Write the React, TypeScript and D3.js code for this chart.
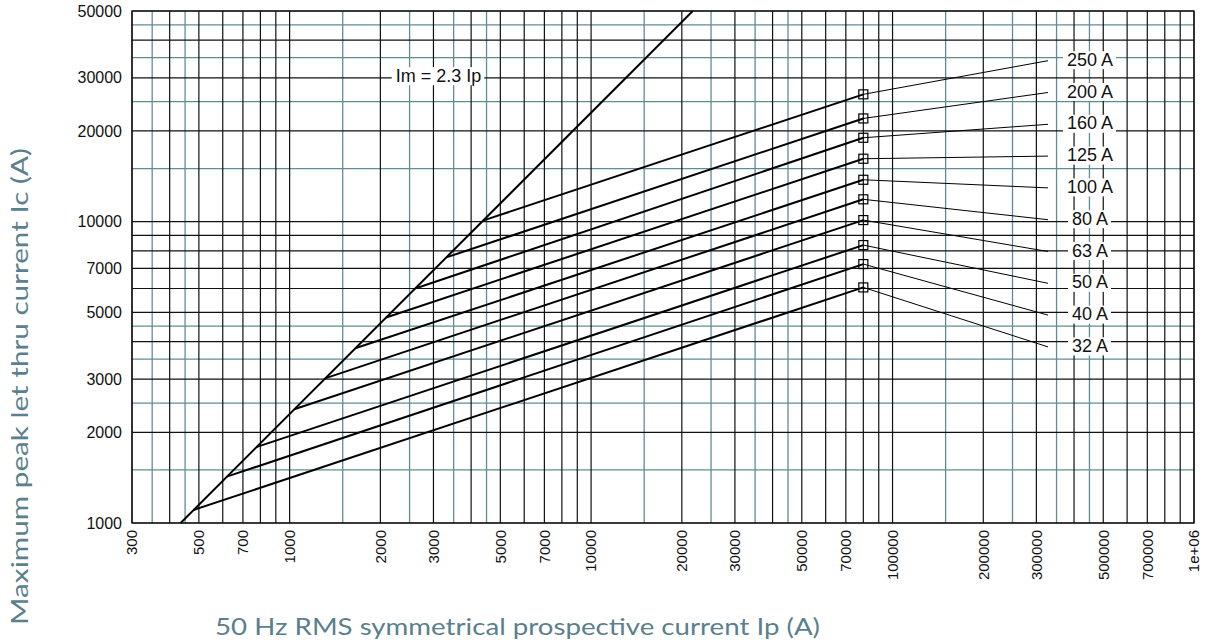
import { useEffect, useRef } from 'react';
import * as d3 from 'd3';

// fuse ratings, knee point on the Im = 2.3 Ip line, and end point at Ip = 80 kA
const ratings = ['250 A', '200 A', '160 A', '125 A', '100 A', '80 A', '63 A', '50 A', '40 A', '32 A'];
const kneeIp = [4400, 3310, 2610, 2090, 1650, 1310, 1036, 775, 619, 480];
const kneeIc = [10100, 7610, 6000, 4810, 3800, 3020, 2385, 1785, 1425, 1105];
const endIp = [80000, 80000, 80000, 80000, 80000, 80000, 80000, 80000, 80000, 80000];
const endIc = [26450, 22000, 18980, 16170, 13770, 11860, 10120, 8360, 7230, 6050];

// Im = 2.3 Ip envelope
const envIp = [435, 21740];
const envIc = [1000, 50000];

const xTickLabels = [300, 500, 700, 1000, 2000, 3000, 5000, 7000, 10000, 20000, 30000, 50000, 70000, 100000, 200000, 300000, 500000, 700000, 1000000];
const yTickLabels = [1000, 2000, 3000, 5000, 7000, 10000, 20000, 30000, 50000];
const halfSteps = [1.5, 2.5, 3.5, 4.5];

const W = 1205;
const H = 643;
const TEAL = '#5f8d96';
const TITLE = '#5b7f8d';

export default function App() {
  const svgRef = useRef<SVGSVGElement>(null);

  useEffect(() => {
    if (!svgRef.current) return;
    const svg = d3.select(svgRef.current);
    svg.selectAll('*').remove();

    const left = 132, right = 1194, top = 11, bottom = 523;
    const x = d3.scaleLog().domain([300, 1e6]).range([left, right]);
    const y = d3.scaleLog().domain([1000, 50000]).range([bottom, top]);

    const minorGrid = (dom: number[]) => {
      const lo = Math.floor(Math.log10(dom[0]));
      const hi = Math.ceil(Math.log10(dom[1]));
      return d3.range(lo, hi).flatMap(p => halfSteps.map(m => m * Math.pow(10, p)))
        .filter(v => v > dom[0] && v < dom[1]);
    };

    const grid = svg.append('g');
    // teal half-step grid
    grid.selectAll('line.tx').data(minorGrid(x.domain())).join('line')
      .attr('x1', d => x(d)).attr('x2', d => x(d)).attr('y1', top).attr('y2', bottom)
      .attr('stroke', TEAL).attr('stroke-width', 1.3);
    grid.selectAll('line.ty').data(minorGrid(y.domain())).join('line')
      .attr('class', 'ty')
      .attr('y1', d => y(d)).attr('y2', d => y(d)).attr('x1', left).attr('x2', right)
      .attr('stroke', TEAL).attr('stroke-width', 1.3);
    // black main grid
    grid.selectAll('line.bx').data(x.ticks()).join('line')
      .attr('class', 'bx')
      .attr('x1', d => x(d)).attr('x2', d => x(d)).attr('y1', top).attr('y2', bottom)
      .attr('stroke', '#111').attr('stroke-width', 1.2);
    grid.selectAll('line.by').data(y.ticks()).join('line')
      .attr('class', 'by')
      .attr('y1', d => y(d)).attr('y2', d => y(d)).attr('x1', left).attr('x2', right)
      .attr('stroke', '#111').attr('stroke-width', 1.2);
    grid.append('rect')
      .attr('x', left).attr('y', top).attr('width', right - left).attr('height', bottom - top)
      .attr('fill', 'none').attr('stroke', '#111').attr('stroke-width', 1.3);

    // tick labels
    svg.append('g').selectAll('text').data(xTickLabels).join('text')
      .attr('transform', d => `translate(${x(d)},530) rotate(-90)`)
      .attr('dy', '0.35em')
      .attr('text-anchor', 'end')
      .style('font-family', '"Liberation Sans", Arial, sans-serif')
      .style('font-size', '15px')
      .attr('fill', '#111')
      .text(d => (d >= 1e6 ? '1e+06' : String(d)));

    svg.append('g').selectAll('text').data(yTickLabels).join('text')
      .attr('x', 122).attr('y', d => y(d))
      .attr('dy', '0.35em')
      .attr('text-anchor', 'end')
      .style('font-family', '"Liberation Sans", Arial, sans-serif')
      .style('font-size', '16px')
      .attr('fill', '#111')
      .text(d => String(d));

    // envelope line
    const line = d3.line<[number, number]>().x(d => x(d[0])).y(d => y(d[1]));
    svg.append('path')
      .attr('d', line(envIp.map((v, i) => [v, envIc[i]] as [number, number])))
      .attr('fill', 'none').attr('stroke', '#000').attr('stroke-width', 2);

    // fuse curves
    const curves = svg.append('g');
    ratings.forEach((r, i) => {
      curves.append('path')
        .attr('d', line([[kneeIp[i], kneeIc[i]], [endIp[i], endIc[i]]]))
        .attr('fill', 'none').attr('stroke', '#000').attr('stroke-width', 2);
    });

    // label layout
    const labelX = 1090, leaderX = 1048, labelTop = 60.7, labelStep = 31.8;
    const labels = svg.append('g');
    const addLabel = (txt: string, cx: number, cy: number) => {
      const g = labels.append('g');
      const rect = g.append('rect').attr('fill', '#fff');
      const t = g.append('text')
        .attr('x', cx).attr('y', cy + 5)
        .attr('text-anchor', 'middle')
        .style('font-family', '"Liberation Sans", Arial, sans-serif')
        .style('font-size', '18px')
        .attr('fill', '#111')
        .text(txt);
      const w = (t.node() as SVGTextElement).getComputedTextLength();
      rect.attr('x', cx - w / 2 - 4).attr('width', w + 7)
        .attr('y', cy + 5 - 14.5).attr('height', 18);
    };

    ratings.forEach((r, i) => {
      const ly = labelTop + i * labelStep;
      labels.append('line')
        .attr('x1', x(endIp[i])).attr('y1', y(endIc[i]))
        .attr('x2', leaderX).attr('y2', ly)
        .attr('stroke', '#000').attr('stroke-width', 1);
      labels.append('rect')
        .attr('x', x(endIp[i]) - 4.5).attr('y', y(endIc[i]) - 4.5)
        .attr('width', 9).attr('height', 9)
        .attr('fill', 'none').attr('stroke', '#000').attr('stroke-width', 1.2);
      addLabel(r, labelX, ly);
    });

    addLabel('Im = 2.3 Ip', 438.5, 76.7);

    // axis titles
    svg.append('text')
      .attr('x', 517.5).attr('y', 635)
      .attr('text-anchor', 'middle')
      .attr('textLength', 605).attr('lengthAdjust', 'spacingAndGlyphs')
      .style('font-family', 'Lato, "Noto Sans", sans-serif')
      .style('font-size', '24px')
      .attr('fill', TITLE)
      .text('50 Hz RMS symmetrical prospective current Ip (A)');

    svg.append('text')
      .attr('transform', 'translate(28,386.5) rotate(-90)')
      .attr('text-anchor', 'middle')
      .attr('textLength', 477).attr('lengthAdjust', 'spacingAndGlyphs')
      .style('font-family', 'Lato, "Noto Sans", sans-serif')
      .style('font-size', '24px')
      .attr('fill', TITLE)
      .text('Maximum peak let thru current Ic (A)');
  }, []);

  return (
    <svg ref={svgRef} width={W} height={H}
      style={{ position: 'absolute', left: 0, top: 0, background: '#fff' }} />
  );
}
